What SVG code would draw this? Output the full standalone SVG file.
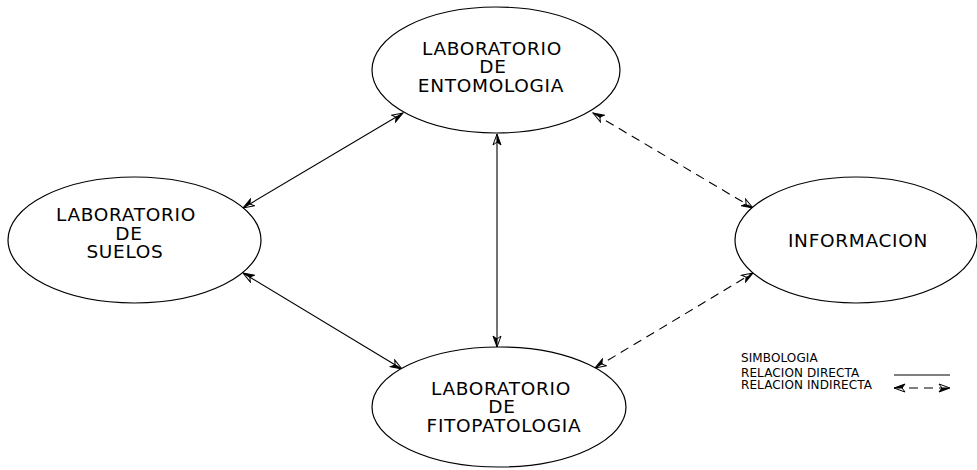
<svg xmlns="http://www.w3.org/2000/svg" width="977" height="470" viewBox="0 0 977 470">
<style>
.node ellipse{fill:#fff;stroke:#000;stroke-width:1.2}
.lbl{font-family:"DejaVu Sans",Verdana,sans-serif;font-size:18.5px;letter-spacing:0.7px;fill:#000;text-anchor:middle}
.leg{font-family:"DejaVu Sans",Verdana,sans-serif;font-size:12px;letter-spacing:0.1px;fill:#000}
.conn line{stroke:#000;stroke-width:1.1;fill:none}
.dash{stroke-dasharray:9,6}
</style>
<defs>
<marker id="ah" markerUnits="userSpaceOnUse" markerWidth="14" markerHeight="10" viewBox="0 0 14 10" refX="12" refY="5" orient="auto-start-reverse">
<path d="M1,1 L12,5 L1,9 L4,5 Z" fill="none" stroke="#000" stroke-width="1"/>
<path d="M4,5 L12,5 L1,9 Z" fill="#000"/>
</marker>
</defs>
<g id="connectors" class="conn">
<line x1="243" y1="208" x2="403" y2="113" marker-start="url(#ah)" marker-end="url(#ah)"/>
<line x1="497" y1="134" x2="497" y2="347" marker-start="url(#ah)" marker-end="url(#ah)"/>
<line x1="243" y1="273" x2="402" y2="369" marker-start="url(#ah)" marker-end="url(#ah)"/>
<line class="dash" x1="593" y1="113" x2="753" y2="208" marker-start="url(#ah)" marker-end="url(#ah)"/>
<line class="dash" x1="595" y1="368" x2="753" y2="273" marker-start="url(#ah)" marker-end="url(#ah)"/>
</g>
<g id="entomologia" class="node">
<ellipse cx="496" cy="70" rx="124" ry="63"/>
<text class="lbl" x="492" y="55">LABORATORIO</text>
<text class="lbl" x="493" y="73">DE</text>
<text class="lbl" x="491" y="92">ENTOMOLOGIA</text>
</g>
<g id="suelos" class="node">
<ellipse cx="134.5" cy="240" rx="126.5" ry="63"/>
<text class="lbl" x="126" y="221">LABORATORIO</text>
<text class="lbl" x="129" y="240">DE</text>
<text class="lbl" x="125" y="258">SUELOS</text>
</g>
<g id="fitopatologia" class="node">
<ellipse cx="499" cy="407" rx="127" ry="60"/>
<text class="lbl" x="501" y="395">LABORATORIO</text>
<text class="lbl" x="502" y="413">DE</text>
<text class="lbl" x="504" y="432">FITOPATOLOGIA</text>
</g>
<g id="informacion" class="node">
<ellipse cx="856" cy="240" rx="121" ry="63"/>
<text class="lbl" x="858" y="247">INFORMACION</text>
</g>
<g id="legend">
<text class="leg" x="741" y="362">SIMBOLOGIA</text>
<text class="leg" x="741" y="377">RELACION DIRECTA</text>
<text class="leg" x="741" y="389">RELACION INDIRECTA</text>
<line x1="894" y1="375" x2="950" y2="375" stroke="#000" stroke-width="1"/>
<line class="dash" x1="894" y1="388" x2="950" y2="388" stroke="#000" stroke-width="1" stroke-dasharray="0,12,11,7,11,7" marker-start="url(#ah)" marker-end="url(#ah)"/>
</g>
</svg>
